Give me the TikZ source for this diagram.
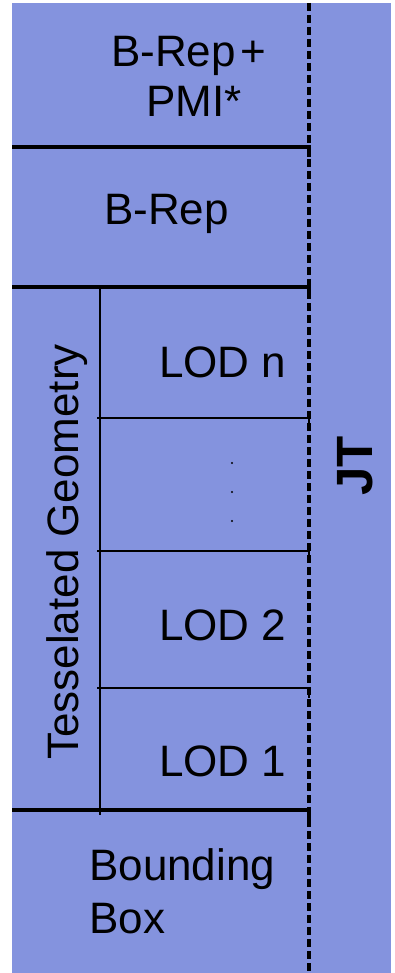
\documentclass[tikz,border=0pt]{standalone}
\usepackage{fontspec}
\setmainfont{Liberation Sans}
\definecolor{panelblue}{RGB}{132,147,222}
\begin{document}
\begin{tikzpicture}[x=1pt,y=-1pt,
  lbl/.style={inner sep=0pt,font=\fontsize{44}{50}\selectfont},
  thickrule/.style={line width=3.5pt},
  thinrule/.style={line width=1.8pt},
  dashrule/.style={line width=3.5pt,dash pattern=on 8pt off 4pt}]
\useasboundingbox (0,0) rectangle (394,973);
\fill[panelblue] (12,3) rectangle (391,973);
% dashed separator
\coordinate (dtop) at (309,3);
\coordinate (dbot) at (309,973);
\draw[dashrule] (dtop) -- (dbot);
% thick rules
\foreach \yy in {147,287,810}{
  \draw[thickrule] (12,\yy) -- (309,\yy) -- (309,\yy+10);
}
% vertical thin rule
\coordinate (vtop) at (100,287);
\coordinate (vbot) at (100,815);
\draw[thinrule] (vtop) -- (vbot);
% thin rules
\foreach \yy in {418,551,688}{
  \draw[thinrule] (97,\yy) -- (309,\yy) -- (309,\yy+10);
}
% labels
\node[lbl,anchor=base west] (brp1) at (111,67) {B-Rep\kern5pt+};
\node[lbl,anchor=base west] (brp2) at (146,117) {PMI*};
\node[lbl,anchor=base west] (brep) at (104,225) {B-Rep};
\node[lbl,anchor=base west] (lodn) at (159,377) {LOD n};
\fill (232,463) circle (1.2pt) (232,492) circle (1.2pt) (232,521) circle (1.2pt);
\node[lbl,anchor=base west] (lod2) at (159,640) {LOD 2};
\node[lbl,anchor=base west] (lod1) at (159,776) {LOD 1};
\node[lbl,anchor=base west] (bb1) at (89,880) {Bounding};
\node[lbl,anchor=base west] (bb2) at (89,933) {Box};
\node[lbl,anchor=base west,rotate=90] (tess) at (78,760) {Tesselated Geometry};
\node[inner sep=0pt,font=\fontsize{51}{51}\selectfont\bfseries,rotate=90] (jt) at (355,466) {JT};
\end{tikzpicture}
\end{document}
